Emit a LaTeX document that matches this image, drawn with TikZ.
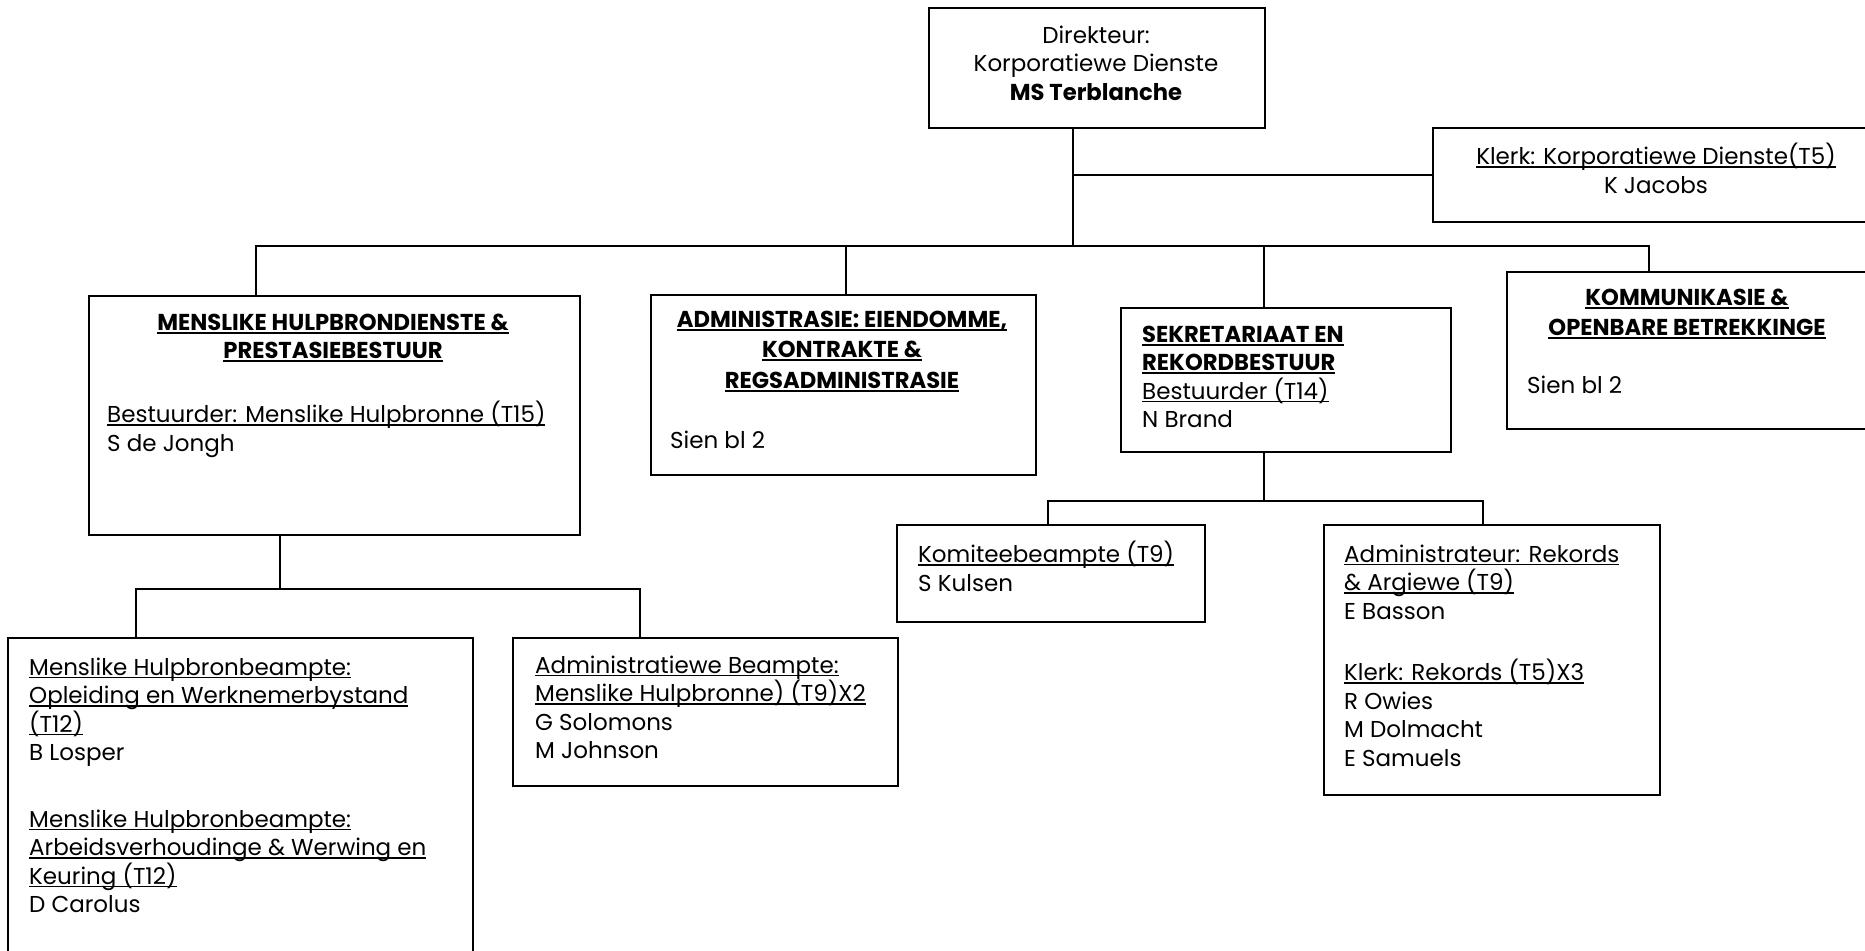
\documentclass[tikz,border=0pt]{standalone}
\usepackage{fontspec}
\setmainfont{Poppins}[BoldFeatures={FakeStretch=0.985}]
\newsavebox\myulbox
\newcommand\uln[1]{\sbox\myulbox{#1}\rlap{\rule[-3pt]{\wd\myulbox}{1.3pt}}\usebox\myulbox}
\newcommand\ulb[1]{\sbox\myulbox{\textbf{#1}}\rlap{\rule[-3.5pt]{\wd\myulbox}{1.9pt}}\usebox\myulbox}
\newcommand\firststrut{\rule{0pt}{19pt}}
\tikzset{
  orgbox/.style 2 args={draw, line width=1.8pt, anchor=north west, inner sep=0pt,
     minimum width=#1pt, minimum height=#2pt},
  txt/.style={inner sep=0pt, anchor=north west, align=left,
     font=\fontsize{23}{28.5}\selectfont},
  ctxt/.style={txt, anchor=north, align=center},
  conn/.style={line width=1.8pt}
}
\begin{document}
\begin{tikzpicture}[x=1pt,y=-1pt]
\useasboundingbox (0,0) rectangle (1865,950);
\clip (0,0) rectangle (1865,950);
% boxes
\node[orgbox={336}{120}] (dir) at (928,7) {};
\node[orgbox={448}{94}] (klerk) at (1432,127) {};
\node[orgbox={491}{239}] (mens) at (88,295) {};
\node[orgbox={385}{180}] (adm) at (650,294) {};
\node[orgbox={330}{144}] (sek) at (1120,307) {};
\node[orgbox={374}{157}] (komm) at (1506,271) {};
\node[orgbox={308}{97}] (komi) at (896,524) {};
\node[orgbox={336}{270}] (admr) at (1323,524) {};
\node[orgbox={385}{148}] (beam) at (512,637) {};
\node[orgbox={465}{330}] (bl) at (7,637) {};
% connectors
\coordinate (j0) at (1073,246);
\coordinate (bL) at (256,246);
\coordinate (bR) at (1649,246);
\coordinate (bA) at (846,246);
\coordinate (bS) at (1264,246);
\draw[conn] (j0 |- dir.south) -- (j0);
\draw[conn] (j0 |- klerk.west) -- (klerk.west);
\draw[conn] (bL |- mens.north) -- (bL) -- (bR) -- (bR |- komm.north);
\draw[conn] (bA) -- (bA |- adm.north);
\draw[conn] (bS) -- (bS |- sek.north);
\coordinate (m0) at (280,589);
\coordinate (mL) at (136,589);
\coordinate (mR) at (640,589);
\draw[conn] (m0 |- mens.south) -- (m0);
\draw[conn] (mL |- bl.north) -- (mL) -- (mR) -- (mR |- beam.north);
\coordinate (s0) at (1264,501);
\coordinate (sL) at (1048,501);
\coordinate (sR) at (1483,501);
\draw[conn] (s0 |- sek.south) -- (s0);
\draw[conn] (sL |- komi.north) -- (sL) -- (sR) -- (sR |- admr.north);
% texts
\node[ctxt] (tdir) at (1096,24) {\firststrut Direkteur:\\Korporatiewe Dienste\\\textbf{MS Terblanche}};
\node[ctxt] (tklerk) at (1656,143) {\firststrut\uln{Klerk: Korporatiewe Dienste(T5)}\\K Jacobs};
\node[ctxt] (tmens) at (333,311) {\firststrut\ulb{MENSLIKE HULPBRONDIENSTE \&}\\\ulb{PRESTASIEBESTUUR}};
\node[txt] (tmensb) at (107,401) {\firststrut\uln{Bestuurder: Menslike Hulpbronne (T15)}\\S de Jongh};
\node[ctxt, font=\fontsize{23}{30.5}\selectfont] (tadm) at (842,308) {\firststrut\ulb{ADMINISTRASIE: EIENDOMME,}\\\ulb{KONTRAKTE \&}\\\ulb{REGSADMINISTRASIE}};
\node[txt] (tadmb) at (670,429) {\firststrut Sien bl 2};
\node[txt] (tsek) at (1142,323) {\firststrut\ulb{SEKRETARIAAT EN}\\\ulb{REKORDBESTUUR}\\\uln{Bestuurder (T14)}\\N Brand};
\node[ctxt, font=\fontsize{23}{30}\selectfont] (tkomm) at (1687,286) {\firststrut\ulb{KOMMUNIKASIE \&}\\\ulb{OPENBARE BETREKKINGE}};
\node[txt] (tkommb) at (1527,374) {\firststrut Sien bl 2};
\node[txt] (tkomi) at (918,541) {\firststrut\uln{Komiteebeampte (T9)}\\S Kulsen};
\node[txt] (tadmra) at (1344,543) {\firststrut\uln{Administrateur: Rekords}\\\uln{\& Argiewe (T9)}\\E Basson};
\node[txt] (tadmrb) at (1344,659) {\firststrut\uln{Klerk: Rekords (T5)X3}\\R Owies\\M Dolmacht\\E Samuels};
\node[txt] (tbeam) at (535,654) {\firststrut\uln{Administratiewe Beampte:}\\\uln{Menslike Hulpbronne) (T9)X2}\\G Solomons\\M Johnson};
\node[txt] (tbla) at (29,656) {\firststrut\uln{Menslike Hulpbronbeampte:}\\\uln{Opleiding en Werknemerbystand}\\\uln{(T12)}\\B Losper};
\node[txt] (tblb) at (29,808) {\firststrut\uln{Menslike Hulpbronbeampte:}\\\uln{Arbeidsverhoudinge \& Werwing en}\\\uln{Keuring (T12)}\\D Carolus};
\end{tikzpicture}
\end{document}
